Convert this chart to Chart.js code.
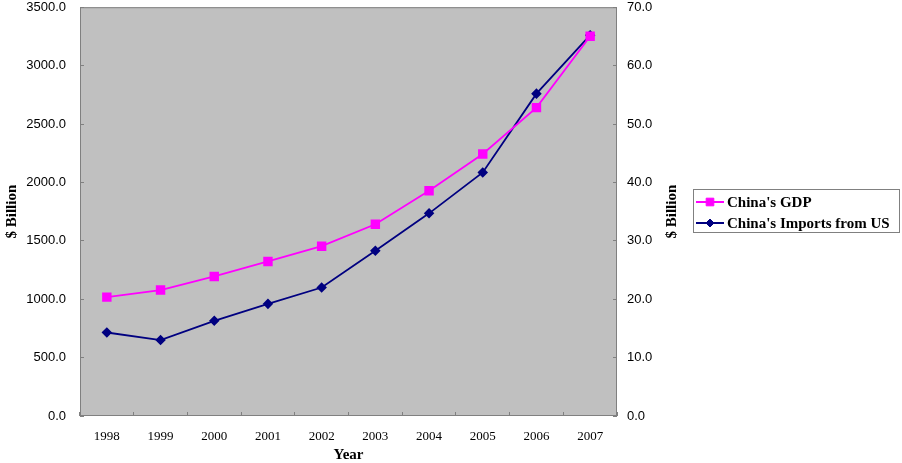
<!DOCTYPE html>
<html>
<head>
<meta charset="utf-8">
<script src="https://cdn.jsdelivr.net/npm/chart.js@4.4.1/dist/chart.umd.min.js"></script>
<style>
    html, body { margin: 0; padding: 0; background: #FFFFFF; }
    #wrap { width: 902px; height: 463px; }
</style>
</head>
<body>
<div id="wrap"><canvas id="gdpChart" width="902" height="463"></canvas></div>
<script>
const years = ['1998', '1999', '2000', '2001', '2002', '2003', '2004', '2005', '2006', '2007'];
const gdpValues = [1018, 1078, 1195, 1323, 1454, 1642, 1929, 2243, 2640, 3252];
const importValues = [14.3, 13.0, 16.3, 19.2, 22.0, 28.3, 34.7, 41.7, 55.2, 65.2];
const seriesNames = ["China's GDP", "China's Imports from US"];
const leftTicks = [0, 3500, 500];
const rightTicks = [0, 70, 10];
const yTitle = '$ Billion';
const xTitle = 'Year';

const COLORS = {
    gdp: '#FF00FF',
    imports: '#000080',
    plot: '#C0C0C0',
    frame: '#808080',
    text: '#000000'
};

const SANS = 'Liberation Sans, Arial, sans-serif';
const SERIF = 'Liberation Serif, Times New Roman, serif';

// Gray plot background + frame, drawn before the scales so the inner ticks stay visible
const plotBackground = {
    id: 'plotBackground',
    beforeDraw: (chart) => {
        const { ctx, chartArea: a } = chart;
        ctx.save();
        ctx.fillStyle = COLORS.plot;
        ctx.fillRect(a.left, a.top, a.right - a.left, a.bottom - a.top);
        ctx.strokeStyle = COLORS.frame;
        ctx.lineWidth = 1;
        ctx.strokeRect(a.left + 0.5, a.top + 0.5, a.right - a.left - 1, a.bottom - a.top - 1);
        ctx.restore();
    },
    afterDraw: (chart) => {
        const { ctx, chartArea: a } = chart;
        // Right axis title, reading bottom to top like the left one
        ctx.save();
        ctx.font = `bold 15px ${SERIF}`;
        ctx.fillStyle = COLORS.text;
        ctx.translate(672, (a.top + a.bottom) / 2);
        ctx.rotate(-Math.PI / 2);
        ctx.textAlign = 'center';
        ctx.textBaseline = 'middle';
        ctx.fillText(yTitle, 0, 0);
        ctx.restore();
    }
};

// Boxed legend on the right
const boxLegend = {
    id: 'boxLegend',
    afterDraw: (chart) => {
        const { ctx } = chart;
        const box = { x: 693.5, y: 189.5, w: 206, h: 43 };
        ctx.save();
        ctx.strokeStyle = COLORS.frame;
        ctx.lineWidth = 1;
        ctx.strokeRect(box.x, box.y, box.w, box.h);
        ctx.font = `bold 15px ${SERIF}`;
        ctx.textBaseline = 'middle';
        chart.data.datasets.forEach((ds, i) => {
            const y = 202 + i * 21;
            ctx.strokeStyle = ds.borderColor;
            ctx.lineWidth = 2;
            ctx.beginPath();
            ctx.moveTo(696, y);
            ctx.lineTo(724, y);
            ctx.stroke();
            ctx.fillStyle = ds.pointBackgroundColor;
            ctx.lineWidth = 1;
            Chart.helpers.drawPoint(ctx, { pointStyle: ds.pointStyle, radius: ds.pointRadius, rotation: 0, borderWidth: 1 }, 710, y);
            ctx.fillStyle = COLORS.text;
            ctx.fillText(ds.label, 727, y + 1);
        });
        ctx.restore();
    }
};

const fixWidth = (w) => (scale) => {
    scale.width = w;
    scale.paddingTop = 0;
    scale.paddingBottom = 0;
};

const ctx = document.getElementById('gdpChart').getContext('2d');

new Chart(ctx, {
    type: 'line',
    data: {
        labels: years,
        datasets: [{
            label: seriesNames[0],
            data: gdpValues,
            yAxisID: 'y',
            borderColor: COLORS.gdp,
            backgroundColor: COLORS.gdp,
            pointBackgroundColor: COLORS.gdp,
            pointBorderColor: COLORS.gdp,
            pointStyle: 'rect',
            pointRadius: 5.4,
            borderWidth: 1.8,
            tension: 0
        }, {
            label: seriesNames[1],
            data: importValues,
            yAxisID: 'y1',
            borderColor: COLORS.imports,
            backgroundColor: COLORS.imports,
            pointBackgroundColor: COLORS.imports,
            pointBorderColor: COLORS.imports,
            pointStyle: 'rectRot',
            pointRadius: 4,
            borderWidth: 1.8,
            tension: 0
        }]
    },
    options: {
        responsive: false,
        animation: false,
        layout: { padding: { top: 6, left: 0, right: 222, bottom: 0 } },
        plugins: {
            legend: { display: false },
            tooltip: { enabled: false }
        },
        scales: {
            x: {
                offset: true,
                border: { display: false },
                grid: { offset: true, drawOnChartArea: false, tickLength: -4, color: COLORS.frame },
                ticks: { color: COLORS.text, font: { family: SERIF, size: 13 }, padding: 17, maxRotation: 0 },
                title: { display: true, text: xTitle, color: COLORS.text, font: { family: SERIF, size: 15, weight: 'bold', lineHeight: 1 }, padding: 0 },
                afterFit: (scale) => {
                    scale.height = 47;
                    scale.paddingLeft = 0;
                    scale.paddingRight = 0;
                }
            },
            y: {
                position: 'left',
                min: leftTicks[0],
                max: leftTicks[1],
                border: { display: false },
                grid: { drawOnChartArea: false, tickLength: -4, color: COLORS.frame },
                ticks: { stepSize: leftTicks[2], color: COLORS.text, font: { family: SANS, size: 13 }, padding: 18, callback: (v) => v.toFixed(1) },
                title: { display: true, text: yTitle, color: COLORS.text, font: { family: SERIF, size: 15, weight: 'bold', lineHeight: 1.2 }, padding: { top: 3, bottom: 0 } },
                afterFit: fixWidth(80)
            },
            y1: {
                position: 'right',
                min: rightTicks[0],
                max: rightTicks[1],
                border: { display: false },
                grid: { drawOnChartArea: false, tickLength: -4, color: COLORS.frame },
                ticks: { stepSize: rightTicks[2], color: COLORS.text, font: { family: SANS, size: 13 }, padding: 14, callback: (v) => v.toFixed(1) },
                afterFit: fixWidth(63)
            }
        }
    },
    plugins: [plotBackground, boxLegend]
});
</script>
</body>
</html>
